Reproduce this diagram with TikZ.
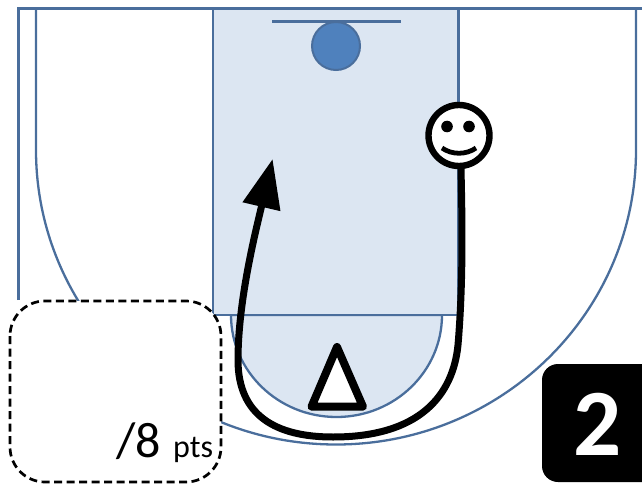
\documentclass[tikz,border=0pt]{standalone}
\usepackage{fontspec}
\setmainfont{Carlito}
\usetikzlibrary{arrows.meta}
\definecolor{courtline}{HTML}{4A6E9C}
\definecolor{keyfill}{HTML}{DCE6F2}
\definecolor{rimfill}{HTML}{4F81BD}
\tikzset{
  court/.style={draw=courtline,line width=2.3pt},
  pen/.style={draw=black,line width=6pt,line join=round,line cap=round}
}
\begin{document}
\begin{tikzpicture}[x=1pt,y=-1pt]
\useasboundingbox (0,0) rectangle (642,484);
\clip (0,0) rectangle (642,484);
% court outline
\draw[court] (18.5,300) -- (18.5,8.5) -- (642,8.5);
\draw[court] (36,8.5) -- (36,150) arc[start angle=180,end angle=360,x radius=300pt,y radius=294.5pt] -- (636,8.5);
% key
\draw[court,fill=keyfill] (231,315) arc[start angle=180,end angle=360,x radius=105.5pt,y radius=102pt] -- cycle;
\draw[court,fill=keyfill] (213,8.5) rectangle (458.5,315);
% backboard and rim
\draw[court] (272,21.5) -- (401,21.5);
\node[circle,draw=courtline,line width=2pt,fill=rimfill,minimum size=48pt,inner sep=0pt] (rim) at (336,46) {};
% player
\node[circle,draw=black,line width=6.4pt,fill=white,minimum size=61pt,inner sep=0pt] (smile) at (459,135.5) {};
\fill (447,126.5) circle[radius=5.8pt];
\fill (469,126.5) circle[radius=5.8pt];
\draw[line width=4.8pt] (442,148) .. controls (452,155) and (466,155) .. (476,148);
% cut path
\coordinate (tip) at (272.6,159);
\draw[draw=black,line width=7pt,-{Triangle[length=49pt,width=37pt]}]
  (smile.south) ++(2,-1)
  .. controls (462,215) and (463.5,280) .. (458,345)
  .. controls (453,395) and (420,437) .. (333,437)
  .. controls (275,437) and (238,415) .. (238,360)
  .. controls (238,300) and (256,230) .. (tip);
% defender triangle
\coordinate (apex) at (337,347);
\coordinate (baseL) at (311.5,406.7);
\coordinate (baseR) at (363,406.7);
\draw[pen,line width=8pt,fill=white] (apex) -- (baseR) -- (baseL) -- cycle;
% points box
\draw[draw=black,line width=2.7pt,dash pattern=on 8pt off 4.5pt,fill=white,rounded corners=35pt] (10,301) rectangle (221,482);
\node[anchor=base east,font=\fontsize{50}{50}\selectfont,inner sep=0pt] (pts) at (161,457) {/8};
\node[anchor=base west,font=\fontsize{32}{32}\selectfont,inner sep=0pt] (unit) at (173,457) {pts};
% number badge
\fill[black,rounded corners=16pt] (542,364) rectangle (670,482);
\node[anchor=base,font=\fontsize{95}{95}\selectfont\bfseries,text=white,inner sep=0pt] (num) at (597.5,455) {2};
\end{tikzpicture}
\end{document}
